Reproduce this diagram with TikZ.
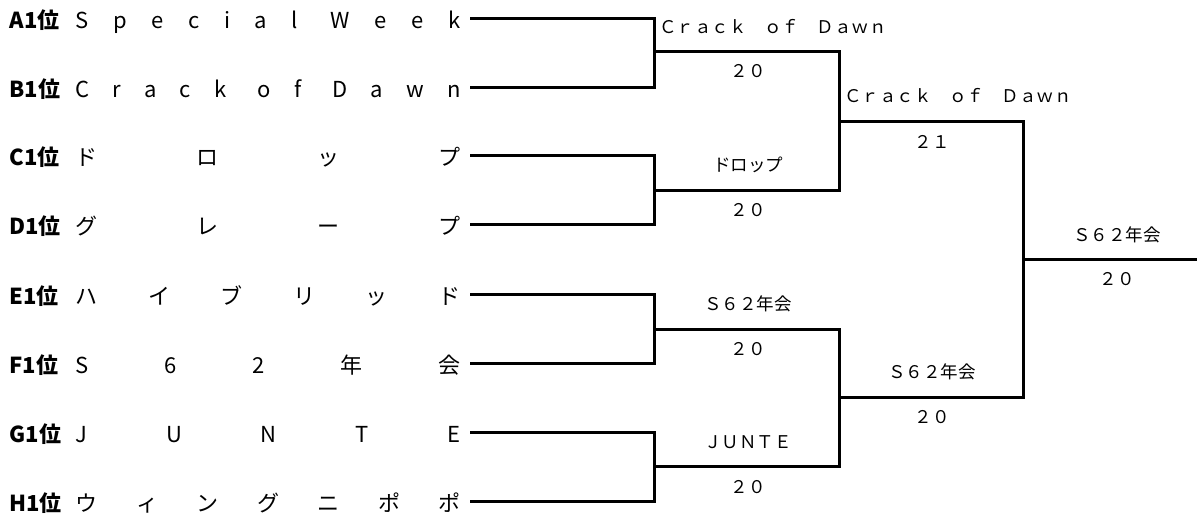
\documentclass[tikz,border=0pt]{standalone}
\usepackage{fontspec}
\usepackage{tikz}
\setmainfont{Noto Sans CJK JP}

% spread the letters of a team name over the whole field
\newlength\namewd
\setlength\namewd{385pt}
\makeatletter
\def\spr#1{#1\futurelet\next\sprnext}
\def\sprnext{\ifx\next\relax\else\ifx\next\@sptoken\hskip8pt\fi\hfill\expandafter\spr\fi}
\makeatother
\newcommand\spread[1]{\makebox[\namewd][s]{\expandafter\spr#1\relax}}

\begin{document}
\begin{tikzpicture}[x=1pt,y=-1pt,line width=3pt]
	\tikzstyle{rk}=[anchor=base west, inner sep=0pt, font=\fontsize{22}{26}\selectfont\bfseries]
	\tikzstyle{nm}=[anchor=east, inner xsep=8pt, inner ysep=0pt, text height=20pt, text depth=0pt, font=\fontsize{22}{26}\selectfont]
	\tikzstyle{lb}=[anchor=base, inner sep=0pt, font=\fontsize{17.5}{20}\selectfont]
	\useasboundingbox (0,0) rectangle (1197,517);

	% entries
	\foreach \id/\rk/\nm/\yy in {a/A1位/Special Week/18, b/B1位/Crack of Dawn/87, c/C1位/ドロップ/155, d/D1位/グレープ/224, e/E1位/ハイブリッド/294, f/F1位/S62年会/363, g/G1位/JUNTE/432, h/H1位/ウィングニポポ/501}
	{
		\node[rk] (r\id) at (8,\yy+10) {\rk};
		\node[nm] (\id) at (470,\yy) {\spread{\nm}};
	}

	% bracket
	\coordinate (q1) at (654,51);
	\coordinate (q2) at (654,190);
	\coordinate (q3) at (654,329);
	\coordinate (q4) at (654,466);
	\coordinate (s1) at (839,121);
	\coordinate (s2) at (839,397);
	\coordinate (fn) at (1023,259);
	\coordinate (w) at (1197,259);

	\foreach \from/\to in {a/q1,b/q1,c/q2,d/q2,e/q3,f/q3,g/q4,h/q4,q1/s1,q2/s1,q3/s2,q4/s2,s1/fn,s2/fn}
	\draw (\from) -| (\to);
	\draw (fn) -- (w);

	% winners and scores
	\foreach \id/\xx/\yy/\tx in {t1/773/33.5/Ｃｒａｃｋ　ｏｆ　Ｄａｗｎ, p1/748/77/２０, t2/748/171/ドロップ, p2/748/216/２０, t3/748/310/Ｓ６２年会, p3/748/355/２０, t4/748/448/ＪＵＮＴＥ, p4/748/493/２０, u1/958/102/Ｃｒａｃｋ　ｏｆ　Ｄａｗｎ, v1/932/148/２１, u2/932/378/Ｓ６２年会, v2/932/423/２０, ch/1117/241/Ｓ６２年会, cs/1117/285/２０}
	\node[lb] (\id) at (\xx,\yy) {\tx};
\end{tikzpicture}
\end{document}
